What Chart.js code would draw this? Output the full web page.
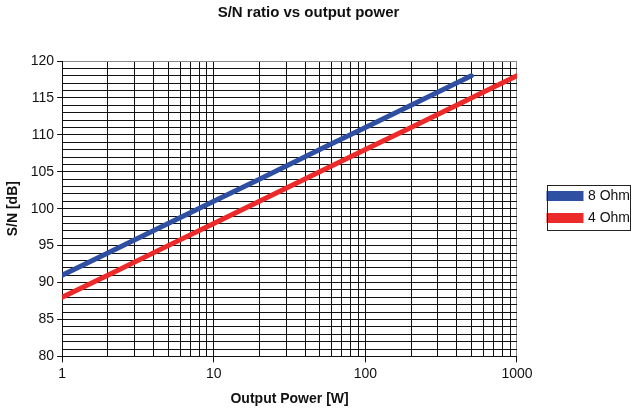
<!DOCTYPE html>
<html>
<head>
<meta charset="utf-8">
<script src="https://cdn.jsdelivr.net/npm/chart.js@4"></script>
<style>
  body { margin: 0; background: #fff; }
  #wrap { width: 640px; height: 416px; }
</style>
</head>
<body>
<div id="wrap"><canvas id="graphCanvas" width="640" height="416"></canvas></div>
<script>
// data
var power = [1, 2, 5, 10, 20, 50, 100, 200, 500, 1000];
var sn8 = [91, 94, 98, 101, 104, 108, 111, 114, 118];
var sn4 = [88, 91, 95, 98, 101, 105, 108, 111, 115, 118];
var xTicks = [1,2,3,4,5,6,7,8,9,10,20,30,40,50,60,70,80,90,100,200,300,400,500,600,700,800,900,1000];
var xLabels = [1, 10, 100, 1000];

Chart.defaults.font.family = "'Liberation Sans', Arial, sans-serif";
Chart.defaults.color = '#222';

function pts(ys) {
  let out = [];
  ys.forEach(function(v, i){ out.push({x: power[i], y: v}); });
  return out;
}

// push the legend a bit away from the plot and put a box round it
var legendBox = {
  id: 'legendBox',
  afterLayout: function(chart) {
    chart.legend.left += 24;
    chart.legend.right += 24;
  },
  afterDraw: function(chart) {
    let lg = chart.legend;
    let boxes = lg.legendHitBoxes;
    if (!boxes || !boxes.length) return;
    let pad = lg.options.labels.padding;
    let w = 0, t = Infinity, b = -Infinity;
    boxes.forEach(function(h){
      w = Math.max(w, h.width);
      t = Math.min(t, h.top); b = Math.max(b, h.top + h.height);
    });
    let l = lg.left + pad;
    let c = chart.ctx;
    c.save();
    c.strokeStyle = '#222';
    c.lineWidth = 1;
    c.strokeRect(Math.round(l - 2) + 0.5, Math.round(t - 4) + 0.5, Math.round(w + 2), Math.round(b - t + 9));
    c.restore();
  }
};

new Chart(document.getElementById('graphCanvas'), {
  type: 'line',
  data: {
    datasets: [{
      label: '8 Ohm',
      data: pts(sn8),
      borderColor: '#2F4FA2',
      backgroundColor: '#2F4FA2',
      borderWidth: 5,
      borderCapStyle: 'round',
      pointRadius: 0,
      tension: 0
    }, {
      label: '4 Ohm',
      data: pts(sn4),
      borderColor: '#EC2A2A',
      backgroundColor: '#EC2A2A',
      borderWidth: 5,
      borderCapStyle: 'round',
      pointRadius: 0,
      tension: 0
    }]
  },
  options: {
    responsive: false,
    animation: false,
    layout: { padding: { left: 1, right: 24, top: 2, bottom: 4 } },
    plugins: {
      title: {
        display: true,
        text: 'S/N ratio vs output power',
        font: { size: 15, weight: 'bold' },
        color: '#111',
        padding: { top: 2, bottom: 39 }
      },
      legend: {
        position: 'right',
        labels: {
          boxWidth: 32,
          boxHeight: 5,
          padding: 8,
          font: { size: 14 },
          color: '#111'
        }
      },
      tooltip: { enabled: false }
    },
    scales: {
      x: {
        type: 'logarithmic',
        min: 1,
        max: 1000,
        afterBuildTicks: function(axis) {
          axis.ticks = xTicks.map(function(v){ return {value: v}; });
        },
        ticks: {
          autoSkip: false,
          maxRotation: 0,
          font: { size: 14 },
          color: '#111',
          callback: function(v) {
            return xLabels.indexOf(v) >= 0 ? String(v) : '';
          }
        },
        grid: {
          color: function(ctx) {
            return ctx.tick && ctx.tick.value === 1000 ? '#8a8a8a' : '#111';
          },
          tickLength: 6,
          tickColor: function(ctx) {
            return xLabels.indexOf(ctx.tick.value) >= 0 ? '#111' : 'rgba(0,0,0,0)';
          }
        },
        border: { color: '#111' },
        title: {
          display: true,
          text: 'Output Power [W]',
          font: { size: 14, weight: 'bold' },
          color: '#111',
          padding: { top: 6 }
        }
      },
      y: {
        min: 80,
        max: 120,
        ticks: {
          stepSize: 1,
          autoSkip: false,
          font: { size: 14 },
          color: '#111',
          callback: function(v) { return v % 5 === 0 ? v : ''; }
        },
        grid: {
          color: function(ctx) {
            return ctx.tick && ctx.tick.value === 120 ? '#8a8a8a' : '#111';
          },
          tickLength: 5,
          tickColor: function(ctx) {
            return ctx.tick.value % 5 === 0 ? '#111' : 'rgba(0,0,0,0)';
          }
        },
        border: { color: '#111' },
        title: {
          display: true,
          text: 'S/N [dB]',
          font: { size: 14, weight: 'bold' },
          color: '#111',
          padding: { bottom: 6 }
        }
      }
    }
  },
  plugins: [legendBox]
});
</script>
</body>
</html>
